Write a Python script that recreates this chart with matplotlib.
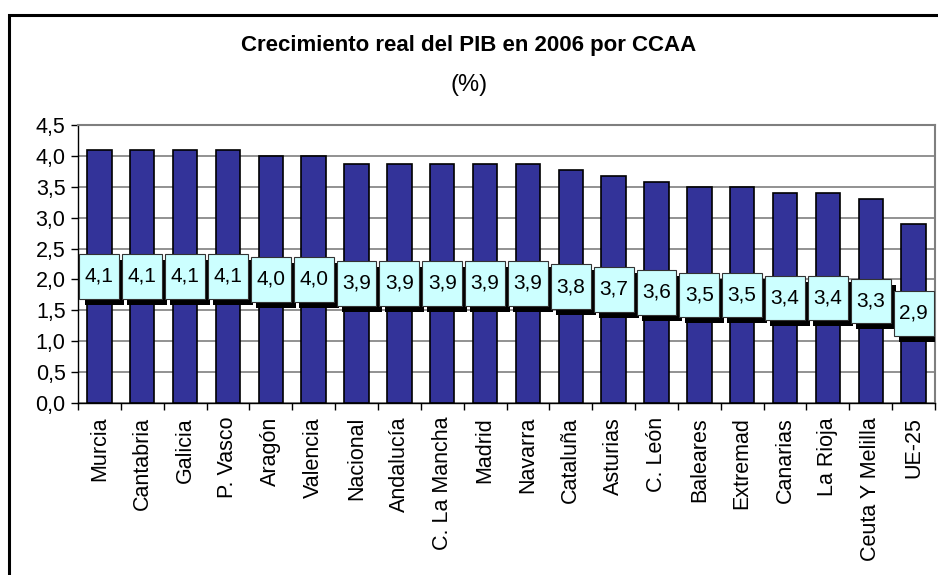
import numpy as np
import matplotlib.pyplot as plt
from matplotlib.patches import Rectangle

plt.rcParams["font.family"] = ["Liberation Sans", "DejaVu Sans"]

regions = [
    "Murcia", "Cantabria", "Galicia", "P. Vasco", "Aragón", "Valencia",
    "Nacional", "Andalucía", "C. La Mancha", "Madrid", "Navarra", "Cataluña",
    "Asturias", "C. León", "Baleares", "Extremad", "Canarias", "La Rioja",
    "Ceuta Y Melilla", "UE-25",
]
growth = [
    4.1, 4.1, 4.1, 4.1, 4.0, 4.0,
    3.87, 3.87, 3.87, 3.87, 3.87, 3.77,
    3.68, 3.58, 3.5, 3.5, 3.4, 3.4,
    3.3, 2.9,
]
yticks = [0.0, 0.5, 1.0, 1.5, 2.0, 2.5, 3.0, 3.5, 4.0, 4.5]

fig = plt.figure(figsize=(9.38, 5.75), dpi=100)
ax = fig.add_axes([78 / 938, 1 - 403 / 575, (935 - 78) / 938, (403 - 125) / 575])

# outer chart frame (cut off at right/bottom like the original)
fig.patches.append(Rectangle((9 / 938, -0.1), 1.2, 1.1 - 15 / 575,
                             transform=fig.transFigure, fill=False,
                             edgecolor="black", linewidth=2.2, zorder=0))

x = np.arange(len(regions))
ax.bar(x, growth, width=0.57, color="#333399", edgecolor="black",
       linewidth=1.2, zorder=2)

# value labels: cyan boxes with black drop shadow, centred in the bar
bw, bh = 0.93, 0.72
dx, dy = 0.12, 0.1
for xi, v in zip(x, growth):
    yc = v / 2
    ax.add_patch(Rectangle((xi - bw / 2 + dx, yc - bh / 2 - dy), bw, bh,
                           facecolor="black", edgecolor="none", zorder=3))
for xi, v in zip(x, growth):
    yc = v / 2
    ax.add_patch(Rectangle((xi - bw / 2, yc - bh / 2), bw, bh,
                           facecolor="#CCFFFF", edgecolor="#333333",
                           linewidth=0.8, zorder=4))
    ax.text(xi, yc, f"{v:.1f}".replace(".", ","), ha="center", va="center",
            fontsize=15, zorder=5)

ax.set_xlim(-0.5, len(regions) - 0.5)
ax.set_ylim(0, 4.5)
ax.set_yticks(yticks)
ax.set_yticklabels([f"{t:.1f}".replace(".", ",") for t in yticks], fontsize=15.5)
ax.yaxis.grid(True, color="#7f7f7f", linewidth=1.2, zorder=1)
ax.set_axisbelow(True)

ax.set_xticks(np.arange(len(regions) + 1) - 0.5)
ax.set_xticklabels([])
ax.set_xticks(x, minor=True)
ax.set_xticklabels(regions, minor=True, rotation=90, fontsize=15.5)
ax.tick_params(axis="x", which="minor", length=0, pad=10)
ax.tick_params(axis="x", which="major", length=5, width=1, color="black")
ax.tick_params(axis="y", length=5, width=1, color="black", pad=4)

for side in ["top", "right"]:
    ax.spines[side].set_color("#7f7f7f")
    ax.spines[side].set_linewidth(1.5)
for side in ["left", "bottom"]:
    ax.spines[side].set_color("black")
    ax.spines[side].set_linewidth(1)

fig.text(0.5, 1 - 45 / 575, "Crecimiento real del PIB en 2006 por CCAA",
         ha="center", va="center", fontsize=16, fontweight="bold")
fig.text(0.5, 1 - 85 / 575, "(%)", ha="center", va="center", fontsize=17)

fig.savefig("out.png", dpi=100)
